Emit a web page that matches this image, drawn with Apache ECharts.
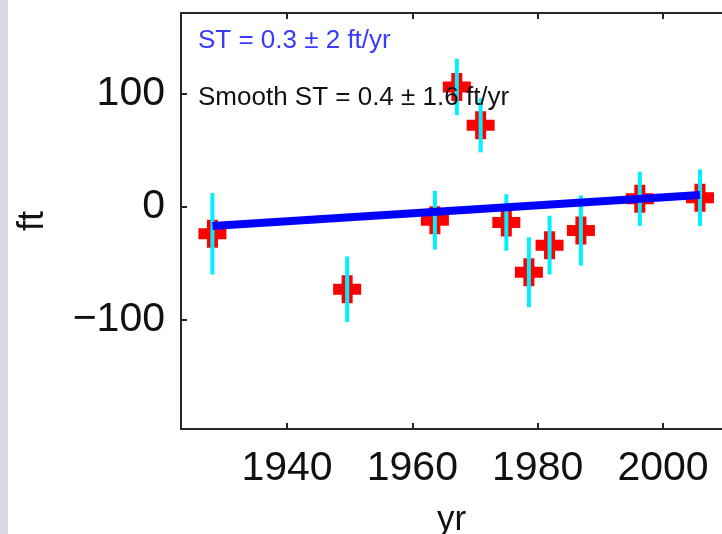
<!DOCTYPE html>
<html>
<head>
<meta charset="utf-8">
<script src="https://cdn.jsdelivr.net/npm/echarts@6/dist/echarts.min.js"></script>
<style>
html,body{margin:0;padding:0;background:#fff;}
#chart{width:722px;height:534px;}
</style>
</head>
<body>
<div id="chart"></div>
<script>
// Data
var years  = [1928.1, 1949.6, 1963.6, 1967.1, 1970.9, 1975.0, 1978.6, 1981.9, 1986.9, 1996.3, 2005.9];
var values = [-24, -73, -12, 106, 72, -14, -58, -34, -21, 7, 8];
var errors = [36, 29, 26, 25, 24, 25, 31, 26, 31, 24, 25];
var fitYears  = [1928.1, 2005.9];
var fitValues = [-17, 10.4];
var xTicks = [1940, 1960, 1980, 2000];
var yTicks = [-100, 0, 100];
var xName = 'yr';
var yName = 'ft';
var text1 = 'ST = 0.3 \u00b1 2 ft/yr';
var text2 = 'Smooth ST = 0.4 \u00b1 1.6 ft/yr';

var pts = years.map(function (y, i) { return [y, values[i]]; });
var errData = years.map(function (y, i) { return [y, values[i], errors[i]]; });
var fitData = fitYears.map(function (y, i) { return [y, fitValues[i]]; });

var FONT = '"Liberation Sans", Arial, sans-serif';
var axisColor = '#262626';

var chart = echarts.init(document.getElementById('chart'), null, {renderer: 'canvas'});
chart.setOption({
  backgroundColor: '#ffffff',
  animation: false,
  grid: {left: 181, top: 13, bottom: 105, right: 0, containLabel: false, outerBoundsMode: 'none'},
  xAxis: [{
    type: 'value', position: 'bottom', min: 1923.085, max: 2009.415,
    name: xName, nameLocation: 'middle', nameGap: 74,
    nameTextStyle: {fontSize: 35, color: '#111', fontFamily: FONT},
    axisLine: {show: true, onZero: false, lineStyle: {color: axisColor, width: 2}},
    axisTick: {show: true, inside: true, length: 6, customValues: xTicks, lineStyle: {color: axisColor, width: 2}},
    axisLabel: {show: true, customValues: xTicks, fontSize: 41, color: '#111', fontFamily: FONT, margin: 19,
      formatter: function (v) { return String(v); }},
    splitLine: {show: false}
  }, {
    type: 'value', position: 'top', min: 1923.085, max: 2009.415,
    axisLine: {show: true, onZero: false, lineStyle: {color: axisColor, width: 2}},
    axisTick: {show: true, inside: true, length: 6, customValues: xTicks, lineStyle: {color: axisColor, width: 2}},
    axisLabel: {show: false},
    splitLine: {show: false}
  }],
  yAxis: [{
    type: 'value', position: 'left', min: -196.7, max: 171.4,
    name: yName, nameLocation: 'middle', nameGap: 130, nameRotate: 90,
    nameTextStyle: {fontSize: 36, color: '#111', fontFamily: FONT},
    axisLine: {show: true, onZero: false, lineStyle: {color: axisColor, width: 2}},
    axisTick: {show: true, inside: true, length: 6, customValues: yTicks, lineStyle: {color: axisColor, width: 2}},
    axisLabel: {show: true, customValues: yTicks, fontSize: 41, color: '#111', fontFamily: FONT, margin: 16,
      formatter: function (v) { return v < 0 ? '\u2212' + Math.abs(v) : String(v); }},
    splitLine: {show: false}
  }],
  series: [{
    type: 'scatter', data: pts, z: 2,
    symbol: 'path://M8.5,0H19.5V8.5H28V19.5H19.5V28H8.5V19.5H0V8.5H8.5Z', symbolSize: 28,
    itemStyle: {color: '#ff0000', opacity: 1}
  }, {
    type: 'custom', data: errData, z: 3,
    renderItem: function (params, api) {
      var x = api.value(0), v = api.value(1), e = api.value(2);
      var p1 = api.coord([x, v + e]);
      var p2 = api.coord([x, v - e]);
      return {type: 'line', shape: {x1: p1[0], y1: p1[1], x2: p2[0], y2: p2[1]},
        style: {stroke: '#00f0ff', lineWidth: 4}};
    }
  }, {
    type: 'line', data: fitData, z: 4, showSymbol: false, symbol: 'none',
    lineStyle: {color: '#0000ff', width: 8}
  }],
  graphic: [
    {type: 'rect', left: 0, top: 0, shape: {width: 8, height: 534}, style: {fill: '#d6d9e3'}, z: 0},
    {type: 'text', left: 198, top: 28, z: 100, style: {text: text1, fontSize: 26, fill: '#3a3aff', fontFamily: FONT}},
    {type: 'text', left: 198, top: 85, z: 100, style: {text: text2, fontSize: 26, fill: '#111', fontFamily: FONT}}
  ]
});
</script>
</body>
</html>
